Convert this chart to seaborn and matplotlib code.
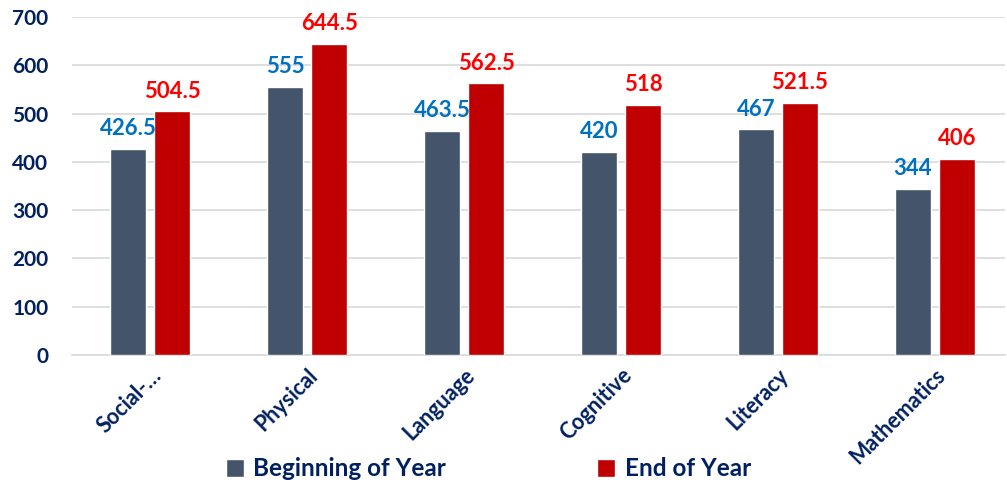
import matplotlib
matplotlib.use("Agg")
import matplotlib.pyplot as plt
import pandas as pd
import seaborn as sns

categories = ["Social-…", "Physical", "Language", "Cognitive", "Literacy", "Mathematics"]
beginning = [426.5, 555, 463.5, 420, 467, 344]
end_year = [504.5, 644.5, 562.5, 518, 521.5, 406]
series = ["Beginning of Year", "End of Year"]

bar_colors = ["#44546A", "#C00000"]
label_colors = ["#0070C0", "#FF0000"]
navy = "#002060"

df = pd.DataFrame({
    "category": categories * 2,
    "score": beginning + end_year,
    "period": [series[0]] * len(categories) + [series[1]] * len(categories),
})

sns.set_theme(style="white")
plt.rcParams["font.family"] = ["Lato", "DejaVu Sans"]

fig = plt.figure(figsize=(10.07, 4.83), dpi=100)
ax = fig.add_axes([0.0715, 0.265, 0.927, 0.70])

sns.barplot(data=df, x="category", y="score", hue="period", order=categories,
            hue_order=series, palette=bar_colors, width=0.56, gap=0.18,
            saturation=1, ax=ax, zorder=3)

for container, col in zip(ax.containers, label_colors):
    ax.bar_label(container, labels=[f"{v:g}" for v in container.datavalues],
                 padding=7, color=col, fontsize=16, fontweight="bold")

ax.set_ylim(0, 700)
ax.set_xlim(-0.5, 5.45)
ax.set_yticks(range(0, 701, 100))
ax.yaxis.grid(True, color="#D9D9D9", linewidth=1.2, zorder=0)
for s in ["top", "right", "left"]:
    ax.spines[s].set_visible(False)
ax.spines["bottom"].set_color("#D9D9D9")
ax.spines["bottom"].set_linewidth(1.2)
ax.tick_params(axis="both", length=0, colors=navy, labelsize=15)
ax.tick_params(axis="y", pad=17)
for t in ax.get_yticklabels():
    t.set_fontweight("bold")
ax.set_xticks(range(len(categories)))
ax.set_xticklabels(categories, rotation=45, ha="right", rotation_mode="anchor",
                   fontweight="bold", color=navy, fontsize=15.5)
ax.tick_params(axis="x", pad=7)
ax.set_xlabel("")
ax.set_ylabel("")

handles, labels = ax.get_legend_handles_labels()
ax.legend_.remove()
fig.legend(handles, labels, loc="lower center", bbox_to_anchor=(0.485, -0.04), ncol=2,
           frameon=False, columnspacing=6.2, handlelength=0.75, handleheight=0.75,
           handletextpad=0.4, prop={"weight": "bold", "size": 17.5}, labelcolor=navy)

fig.savefig("out.png", dpi=100)
